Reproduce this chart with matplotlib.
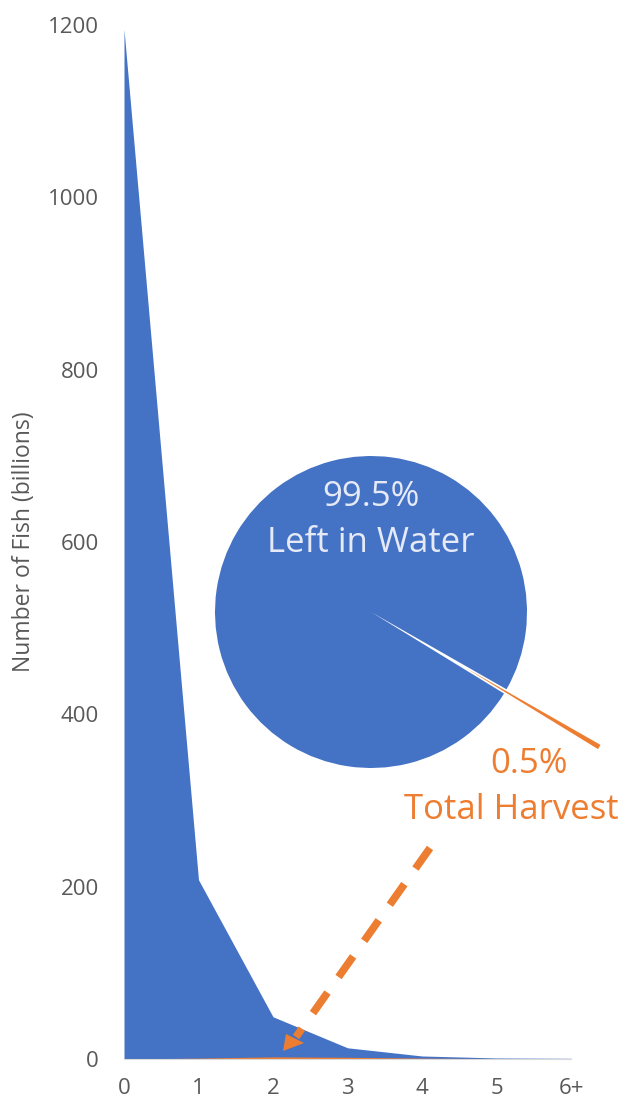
import matplotlib
matplotlib.use("Agg")
import matplotlib.pyplot as plt
from matplotlib.patches import Polygon
import numpy as np

# fish by age class (billions)
ages = ["0", "1", "2", "3", "4", "5", "6+"]
left_in_water = [1195, 208, 49, 13, 3.5, 1.2, 0.8]
harvest = [0, 1.0, 2.5, 2.0, 1.0, 0.4, 0.3]

# pie inset shares (%)
share_labels = ["Left in Water", "Total Harvest"]
share_values = [99.5, 0.5]

BLUE = "#4472C4"
ORANGE = "#ED7D31"
GREY = "#595959"

plt.rcParams["font.family"] = ["Open Sans", "DejaVu Sans"]

W, H = 624, 1103
fig = plt.figure(figsize=(W / 100, H / 100), dpi=100)
ax = fig.add_axes([124 / W, 1 - 1059 / H, (571 - 124) / W, (1059 - 25) / H])

x = np.arange(len(ages))
ax.fill_between(x, 0, left_in_water, color=BLUE, linewidth=0)
ax.fill_between(x, 0, harvest, color=ORANGE, linewidth=0)

ax.set_xlim(0, len(ages) - 1)
ax.set_ylim(0, 1200)
ax.set_yticks(range(0, 1201, 200))
ax.set_xticks(x)
ax.set_xticklabels(ages)
ax.tick_params(length=0, labelsize=16, colors=GREY)
ax.tick_params(axis="x", pad=14)
ax.tick_params(axis="y", pad=18)
for s in ("top", "right", "left"):
    ax.spines[s].set_visible(False)
ax.spines["bottom"].set_color("#D9D9D9")
fig.text(24 / W, 1 - 542 / H, "Number of Fish (billions)", rotation=90,
         ha="center", va="center", fontsize=16.5, color=GREY)

# pie inset
cx, cy, r = 371, 612, 156
pax = fig.add_axes([(cx - r) / W, 1 - (cy + r) / H, 2 * r / W, 2 * r / H])
pax.pie(share_values, colors=[BLUE, ORANGE], startangle=-29.7,
        explode=[0, 0.7], wedgeprops={"linewidth": 0})
pax.set_xlim(-1, 1)
pax.set_ylim(-1, 1)
pax.set_aspect("equal")
pax.axis("off")
for p in pax.patches:
    p.set_clip_on(False)

fs = 25
fig.text(cx / W, 1 - 497 / H, f"{share_values[0]}%", ha="center", va="center",
         fontsize=fs, color="#E6EAF7")
fig.text(cx / W, 1 - 543 / H, share_labels[0], ha="center", va="center",
         fontsize=fs, color="#E6EAF7")
fig.text(529.5 / W, 1 - 764 / H, f"{share_values[1]}%", ha="center", va="center",
         fontsize=fs, color=ORANGE)
fig.text(511.5 / W, 1 - 810 / H, share_labels[1], ha="center", va="center",
         fontsize=fs, color=ORANGE)

# dashed arrow pointing to harvest
def fp(px, py):
    return px / W, 1 - py / H

(x0, y0), (x1, y1) = fp(430, 848), fp(296, 1037)
fig.add_artist(plt.Line2D([x0, x1], [y0, y1], color=ORANGE, lw=5.5,
                          dashes=(3.3, 2.5), solid_capstyle="butt"))
fig.add_artist(Polygon([fp(283, 1051), fp(286, 1034), fp(304, 1043)],
                       closed=True, transform=fig.transFigure,
                       color=ORANGE, lw=0))

fig.savefig("out.png", dpi=100, facecolor="white")
